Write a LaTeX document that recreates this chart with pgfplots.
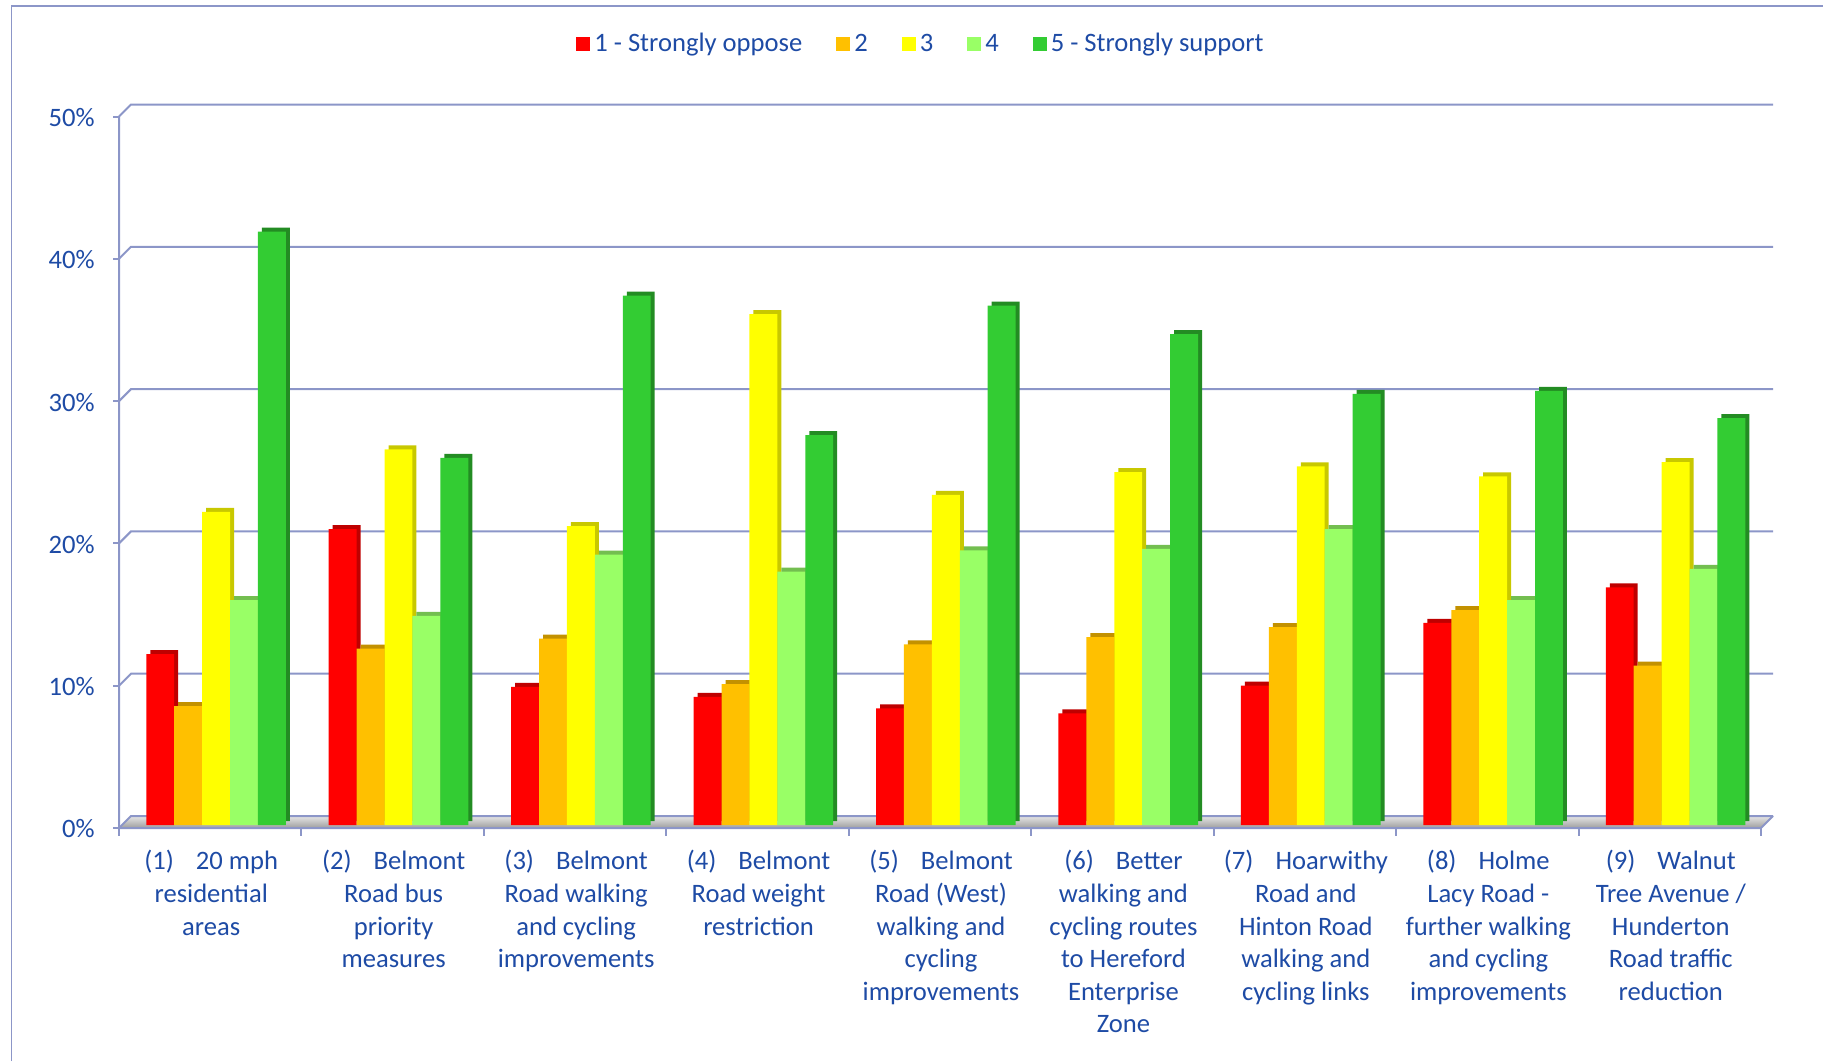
\documentclass[border=0pt]{standalone}
\usepackage{fontspec}
\setmainfont{Carlito}
\usepackage{pgfplots}
\usepackage{pgfplotstable}
\pgfplotsset{compat=1.18}
\definecolor{txt}{RGB}{30,75,165}
\definecolor{gridc}{RGB}{140,150,200}
\definecolor{cR}{RGB}{255,0,0}\definecolor{cRs}{RGB}{190,0,0}
\definecolor{cO}{RGB}{255,192,0}\definecolor{cOs}{RGB}{195,145,0}
\definecolor{cY}{RGB}{255,255,0}\definecolor{cYs}{RGB}{200,200,0}
\definecolor{cL}{RGB}{153,255,102}\definecolor{cLs}{RGB}{115,190,80}
\definecolor{cG}{RGB}{51,204,51}\definecolor{cGs}{RGB}{35,140,35}
\pgfplotstableread{
x r o y lg g
0 12.0 8.35 22.0 15.8 41.7
1 20.8 12.4 26.4 14.7 25.8
2 9.7 13.1 21.0 19.0 37.2
3 9.0 9.9 35.9 17.8 27.4
4 8.2 12.7 23.2 19.3 36.5
5 7.85 13.2 24.8 19.4 34.5
6 9.8 13.9 25.2 20.8 30.3
7 14.2 15.1 24.5 15.8 30.5
8 16.7 11.2 25.5 18.0 28.6
}\data
\begin{document}
\begin{tikzpicture}
\useasboundingbox (0,0) rectangle (911.5pt,530.5pt);
\draw[gridc, line width=0.8pt] (5.8pt,0) -- (5.8pt,527.6pt) -- (911.5pt,527.6pt);
\begin{axis}[
  at={(61.5pt,118pt)}, anchor=south west,
  scale only axis, width=821pt, height=355.75pt,
  xmin=-0.5, xmax=8.5, ymin=0, ymax=50,
  clip=false,
  axis line style={draw=none},
  major tick length=0pt, tick style={draw=none},
  ytick={0,10,20,30,40,50},
  yticklabels={0\%,10\%,20\%,30\%,40\%,50\%},
  xtick={0,1,2,3,4,5,6,7,8},
  xticklabels={
    {(1)\hspace{11pt}20 mph\\residential\\areas},
    {(2)\hspace{11pt}Belmont\\Road bus\\priority\\measures},
    {(3)\hspace{11pt}Belmont\\Road walking\\and cycling\\improvements},
    {(4)\hspace{11pt}Belmont\\Road weight\\restriction},
    {(5)\hspace{11pt}Belmont\\Road (West)\\walking and\\cycling\\improvements},
    {(6)\hspace{11pt}Better\\walking and\\cycling routes\\to Hereford\\Enterprise\\Zone},
    {(7)\hspace{11pt}Hoarwithy\\Road and\\Hinton Road\\walking and\\cycling links},
    {(8)\hspace{11pt}Holme\\Lacy Road -\\further walking\\and cycling\\improvements},
    {(9)\hspace{11pt}Walnut\\Tree Avenue /\\Hunderton\\Road traffic\\reduction}},
  tick label style={font=\fontsize{13.3}{16.3}\selectfont, text=txt},
  yticklabel style={anchor=east, inner sep=0pt, xshift=-14pt, yshift=-2pt},
  xticklabel style={anchor=north, align=center, inner sep=0pt, yshift=-12.5pt, xshift=-1.5pt},
  ybar, bar width=0.153,
  legend columns=-1,
  legend style={at={(axis description cs:0.4866,1.0977)}, anchor=center, draw=none, fill=none,
    font=\fontsize{13.3}{16}\selectfont, text=txt,
    /tikz/every even column/.append style={column sep=15pt}},
]
% floor
\fill[top color=black!10, bottom color=black!38]
  ([shift={(-2pt,-1.5pt)}]axis cs:-0.5,0) -- ([shift={(-2pt,-1.5pt)}]axis cs:8.5,0)
  -- ([shift={(4pt,4.5pt)}]axis cs:8.5,0) -- ([shift={(4pt,4.5pt)}]axis cs:-0.5,0) -- cycle;
% back wall gridlines, left wall diagonals, y ticks
\pgfplotsinvokeforeach{0,10,20,30,40,50}{
  \draw[gridc, line width=1pt] ([shift={(-2pt,-1.5pt)}]axis cs:-0.5,#1) -- ([shift={(4pt,4.5pt)}]axis cs:-0.5,#1) -- ([shift={(4pt,4.5pt)}]axis cs:8.5,#1);
  \draw[gridc, line width=1pt] ([shift={(-2pt,-1.5pt)}]axis cs:-0.5,#1) -- ([shift={(-5pt,-1.5pt)}]axis cs:-0.5,#1);
}
% front axes
\draw[gridc, line width=1pt] ([shift={(-2pt,-1.5pt)}]axis cs:-0.5,50) -- ([shift={(-2pt,-1.5pt)}]axis cs:-0.5,0)
  -- ([shift={(-2pt,-1.5pt)}]axis cs:8.5,0) -- ([shift={(4pt,4.5pt)}]axis cs:8.5,0);
\pgfplotsinvokeforeach{-0.5,0.5,1.5,2.5,3.5,4.5,5.5,6.5,7.5,8.5}{
  \draw[gridc, line width=1pt] ([shift={(-2pt,-1.5pt)}]axis cs:#1,0) -- ([shift={(-2pt,-5.5pt)}]axis cs:#1,0);
}
% bars: side/top face then front face
\addplot[fill=cRs, draw=none, forget plot, bar shift=-0.296, xshift=2pt, yshift=2pt] table[x=x,y=r]{\data};
\addplot[fill=cR, draw=none, bar shift=-0.296, legend image code/.code={\fill[cR] (0pt,-3.5pt) rectangle (7pt,3.5pt);}] table[x=x,y=r]{\data};
\addplot[fill=cOs, draw=none, forget plot, bar shift=-0.143, xshift=2pt, yshift=2pt] table[x=x,y=o]{\data};
\addplot[fill=cO, draw=none, bar shift=-0.143, legend image code/.code={\fill[cO] (0pt,-3.5pt) rectangle (7pt,3.5pt);}] table[x=x,y=o]{\data};
\addplot[fill=cYs, draw=none, forget plot, bar shift=0.010, xshift=2pt, yshift=2pt] table[x=x,y=y]{\data};
\addplot[fill=cY, draw=none, bar shift=0.010, legend image code/.code={\fill[cY] (0pt,-3.5pt) rectangle (7pt,3.5pt);}] table[x=x,y=y]{\data};
\addplot[fill=cLs, draw=none, forget plot, bar shift=0.163, xshift=2pt, yshift=2pt] table[x=x,y=lg]{\data};
\addplot[fill=cL, draw=none, bar shift=0.163, legend image code/.code={\fill[cL] (0pt,-3.5pt) rectangle (7pt,3.5pt);}] table[x=x,y=lg]{\data};
\addplot[fill=cGs, draw=none, forget plot, bar shift=0.316, xshift=2pt, yshift=2pt] table[x=x,y=g]{\data};
\addplot[fill=cG, draw=none, bar shift=0.316, legend image code/.code={\fill[cG] (0pt,-3.5pt) rectangle (7pt,3.5pt);}] table[x=x,y=g]{\data};
\legend{1 - Strongly oppose\hspace{6pt},2,3,4,5 - Strongly support}
\end{axis}
\end{tikzpicture}
\end{document}
